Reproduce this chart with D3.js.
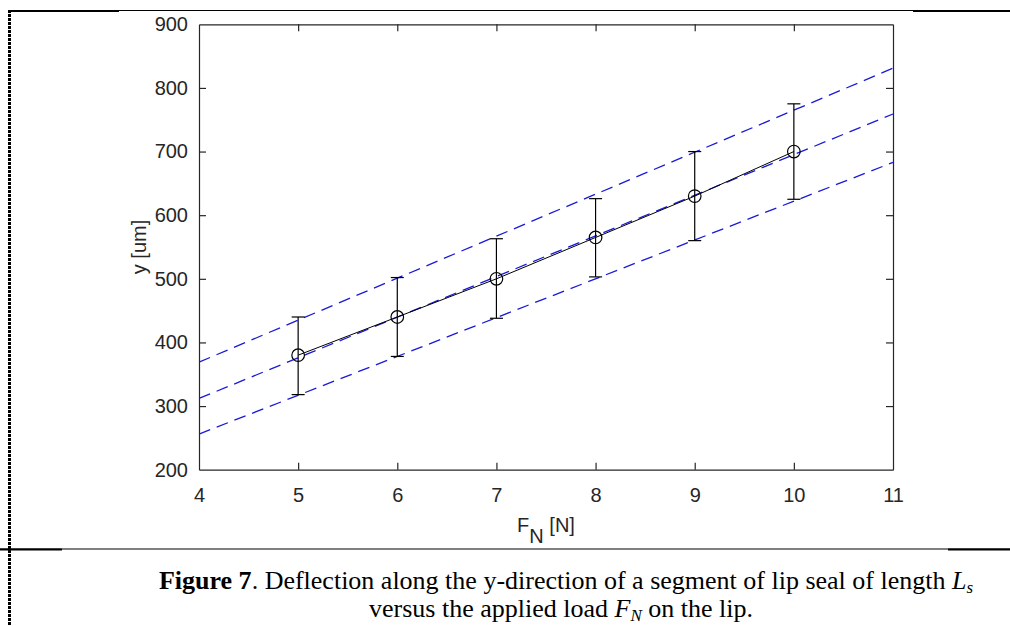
<!DOCTYPE html>
<html>
<head>
<meta charset="utf-8">
<script src="https://cdn.jsdelivr.net/npm/d3@7"></script>
<style>
  body { margin: 0; background: #fff; }
  svg { display: block; }
</style>
</head>
<body>
<div id="canvas"></div>
<script>
// data
var forces = [5, 6, 7, 8, 9, 10];
var deflection = [380, 440, 500, 565, 630, 700];
var errLow = [318, 378, 438, 503, 560, 625];
var errHigh = [440, 502, 563, 626, 700, 775];
// dashed lines: value at F = 4 and F = 11
var lineEnds = [4, 11];
var upperBand = [369, 831];
var fitLine = [312, 759];
var lowerBand = [256, 683];
var xTicks = [4, 5, 6, 7, 8, 9, 10, 11];
var yTicks = [200, 300, 400, 500, 600, 700, 800, 900];

var svg = d3.select('#canvas').append('svg')
  .attr('width', 1010)
  .attr('height', 626);

var x = d3.scaleLinear().domain([4, 11]).range([199, 893]);
var y = d3.scaleLinear().domain([200, 900]).range([469.7, 24.3]);

var axisColor = '#262626';
var tickFont = '20px "Liberation Sans", Arial, sans-serif';

// page frame bits (top rule, bottom rule, dashed left edge)
var frame = svg.append('g');
frame.append('line').attr('x1', 8).attr('x2', 1010).attr('y1', 10.5).attr('y2', 10.5)
  .attr('stroke', '#000').attr('stroke-width', 1);
frame.append('line').attr('x1', 8).attr('x2', 119).attr('y1', 11).attr('y2', 11)
  .attr('stroke', '#000').attr('stroke-width', 2);
frame.append('line').attr('x1', 913).attr('x2', 1010).attr('y1', 11).attr('y2', 11)
  .attr('stroke', '#000').attr('stroke-width', 2);
frame.append('line').attr('x1', 0).attr('x2', 1010).attr('y1', 549).attr('y2', 549)
  .attr('stroke', '#000').attr('stroke-width', 1);
frame.append('line').attr('x1', 0).attr('x2', 62).attr('y1', 549.5).attr('y2', 549.5)
  .attr('stroke', '#000').attr('stroke-width', 2);
frame.append('line').attr('x1', 948).attr('x2', 1010).attr('y1', 549.5).attr('y2', 549.5)
  .attr('stroke', '#000').attr('stroke-width', 2);
frame.append('line').attr('x1', 9.5).attr('x2', 9.5).attr('y1', 10).attr('y2', 626)
  .attr('stroke', '#000').attr('stroke-width', 3).attr('stroke-dasharray', '3,1');

// axes (box with inward ticks on all sides)
var gx = svg.append('g').attr('transform', 'translate(0,' + y(200) + ')')
  .call(d3.axisBottom(x).tickValues(xTicks).tickFormat(d3.format('d'))
    .tickSize(-7).tickSizeOuter(0).tickPadding(18));
var gxt = svg.append('g').attr('transform', 'translate(0,' + y(900) + ')')
  .call(d3.axisTop(x).tickValues(xTicks).tickSize(-7).tickSizeOuter(0).tickFormat(''));
var gy = svg.append('g').attr('transform', 'translate(' + x(4) + ',0)')
  .call(d3.axisLeft(y).tickValues(yTicks).tickSize(-7).tickSizeOuter(0).tickPadding(11));
var gyr = svg.append('g').attr('transform', 'translate(' + x(11) + ',0)')
  .call(d3.axisRight(y).tickValues(yTicks).tickSize(-7).tickSizeOuter(0).tickFormat(''));

[gx, gxt, gy, gyr].forEach(function (g) {
  g.selectAll('path, line').attr('stroke', axisColor).attr('stroke-width', 1.2);
  g.selectAll('text').style('font', tickFont).attr('fill', axisColor);
});
// drop tick marks sitting on the box corners
gx.selectAll('.tick line').filter(function (d) { return d === 4 || d === 11; }).remove();
gxt.selectAll('.tick line').filter(function (d) { return d === 4 || d === 11; }).remove();
gy.selectAll('.tick line').filter(function (d) { return d === 200 || d === 900; }).remove();
gyr.selectAll('.tick line').filter(function (d) { return d === 200 || d === 900; }).remove();

// blue dashed fit and bands
var bands = [upperBand, fitLine, lowerBand];
svg.selectAll('line.band').data(bands)
  .enter().append('line')
  .attr('class', 'band')
  .attr('x1', x(lineEnds[0]))
  .attr('x2', x(lineEnds[1]))
  .attr('y1', function (d) { return y(d[0]); })
  .attr('y2', function (d) { return y(d[1]); })
  .attr('stroke', '#1a1ad6')
  .attr('stroke-width', 1.3)
  .attr('stroke-dasharray', '12,7');

// black line through points
var line = d3.line()
  .x(function (d, i) { return x(forces[i]); })
  .y(function (d) { return y(d); });
svg.append('path').datum(deflection)
  .attr('d', line)
  .attr('fill', 'none')
  .attr('stroke', '#000')
  .attr('stroke-width', 1);

// error bars
var eb = svg.append('g').attr('stroke', '#000').attr('stroke-width', 1.2);
forces.forEach(function (f, i) {
  eb.append('line').attr('x1', x(f)).attr('x2', x(f))
    .attr('y1', y(errLow[i])).attr('y2', y(errHigh[i]));
  eb.append('line').attr('x1', x(f) - 6.5).attr('x2', x(f) + 6.5)
    .attr('y1', y(errLow[i])).attr('y2', y(errLow[i]));
  eb.append('line').attr('x1', x(f) - 6.5).attr('x2', x(f) + 6.5)
    .attr('y1', y(errHigh[i])).attr('y2', y(errHigh[i]));
});

// circle markers
svg.selectAll('circle').data(deflection)
  .enter().append('circle')
  .attr('cx', function (d, i) { return x(forces[i]); })
  .attr('cy', function (d) { return y(d); })
  .attr('r', 6.3)
  .attr('fill', 'none')
  .attr('stroke', '#000')
  .attr('stroke-width', 1.2);

// axis labels
svg.append('text')
  .attr('transform', 'translate(146,247) rotate(-90)')
  .attr('text-anchor', 'middle')
  .style('font', tickFont)
  .attr('fill', axisColor)
  .text('y [um]');

var xl = svg.append('text')
  .attr('x', 546).attr('y', 532)
  .attr('text-anchor', 'middle')
  .style('font', tickFont)
  .attr('fill', axisColor);
xl.append('tspan').text('F');
xl.append('tspan').attr('dy', 11).text('N');
xl.append('tspan').attr('dy', -11).text(' [N]');

// caption
var capFont = '"Liberation Serif", "Times New Roman", serif';
var c1 = svg.append('text')
  .attr('x', 566).attr('y', 589)
  .attr('text-anchor', 'middle')
  .style('font-family', capFont).style('font-size', '26px')
  .attr('fill', '#000');
c1.append('tspan').attr('font-weight', 'bold').text('Figure 7');
c1.append('tspan').text('. Deflection along the y-direction of a segment of lip seal of length ');
c1.append('tspan').attr('font-style', 'italic').text('L');
c1.append('tspan').attr('font-style', 'italic').attr('font-size', '17px').attr('dy', 4).text('s');

var c2 = svg.append('text')
  .attr('x', 561).attr('y', 617)
  .attr('text-anchor', 'middle')
  .style('font-family', capFont).style('font-size', '26px')
  .attr('fill', '#000');
c2.append('tspan').text('versus the applied load ');
c2.append('tspan').attr('font-style', 'italic').text('F');
c2.append('tspan').attr('font-style', 'italic').attr('font-size', '17px').attr('dy', 4).text('N');
c2.append('tspan').attr('dy', -4).text(' on the lip.');
</script>
</body>
</html>
